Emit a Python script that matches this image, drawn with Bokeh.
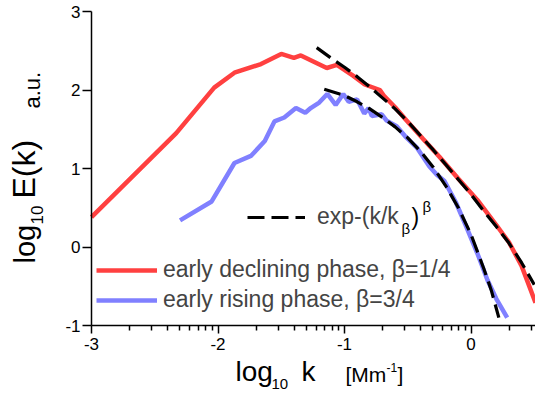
import math
from bokeh.plotting import figure
from bokeh.models import FixedTicker, Label, Legend, LegendItem, LinearAxis
from bokeh.embed import file_html
from bokeh.resources import INLINE

# ---- data ----
red_x = [-3.0, -2.33, -2.03, -1.87, -1.66, -1.50, -1.40, -1.345, -1.14, -1.06,
         -0.93, -0.84, -0.72, -0.69, -0.60, -0.52, -0.38, -0.25, -0.10, 0.05,
         0.20, 0.30, 0.40, 0.51]
red_y = [0.38, 1.45, 2.03, 2.22, 2.33, 2.46, 2.41, 2.44, 2.28, 2.32,
         2.18, 2.07, 2.00, 1.93, 1.78, 1.63, 1.38, 1.15, 0.87, 0.60,
         0.28, 0.06, -0.24, -0.71]

blue_x = [-2.30, -2.05, -1.87, -1.74, -1.63, -1.554, -1.476, -1.384, -1.31, -1.267,
          -1.20, -1.136, -1.07, -1.01, -0.967, -0.90, -0.844, -0.81, -0.784, -0.706,
          -0.667, -0.588, -0.52, -0.43, -0.33, -0.27, -0.21, -0.12, -0.04, 0.05,
          0.13, 0.20, 0.286]
blue_y = [0.34, 0.58, 1.07, 1.16, 1.35, 1.60, 1.65, 1.77, 1.71, 1.77,
          1.84, 1.95, 1.81, 1.95, 1.85, 1.88, 1.70, 1.77, 1.67, 1.69,
          1.61, 1.54, 1.41, 1.27, 1.03, 0.92, 0.84, 0.57, 0.27, -0.08,
          -0.42, -0.66, -0.90]

fit_red_x = [-1.22, -1.1, -1.0, -0.9, -0.8, -0.7, -0.6, -0.5, -0.4, -0.3,
             -0.2, -0.1, 0.0, 0.1, 0.2, 0.3, 0.4, 0.5]
fit_red_y = [2.54, 2.40, 2.29, 2.17, 2.04, 1.90, 1.76, 1.60, 1.42, 1.24,
             1.05, 0.86, 0.67, 0.46, 0.26, 0.05, -0.20, -0.48]

fit_blue_x = [-1.16, -1.0, -0.9, -0.8, -0.7, -0.6, -0.5, -0.4, -0.3, -0.2,
              -0.1, 0.0, 0.1, 0.16, 0.22]
fit_blue_y = [2.01, 1.93, 1.85, 1.76, 1.65, 1.53, 1.39, 1.22, 1.02, 0.78,
              0.50, 0.16, -0.27, -0.55, -0.90]

x_ticks = [-3, -2, -1, 0]
x_tick_labels = ["-3", "-2", "-1", "0"]
y_ticks = [-1, 0, 1, 2, 3]
y_tick_labels = ["-1", "0", "1", "2", "3"]

label_red = "early declining phase, β=1/4"
label_blue = "early rising phase, β=3/4"
label_fit = "exp-(k/k"

RED = "#ff4040"
BLUE = "#8080ff"
FONT = "Liberation Sans"

# ---- layout: the frame fills the whole canvas; axes sit at fixed locations ----
W, H = 535, 393
AX_LEFT_PX = 91       # pixel column of the y axis
AX_BOTTOM_PX = 325    # pixel row of the x axis
XS = 126.5            # px per decade in x
YS = 78.5             # px per unit in y
XA, YA = -3.0, -1.0   # axis positions (data)
X0 = XA - AX_LEFT_PX / XS
X1 = XA + (W - AX_LEFT_PX) / XS
Y0 = YA - (H - AX_BOTTOM_PX) / YS
Y1 = YA + AX_BOTTOM_PX / YS


def dx(px):
    return (px - AX_LEFT_PX) / XS + XA


def dy(py):
    return (AX_BOTTOM_PX - py) / YS + YA


p = figure(width=W, height=H, x_range=(X0, X1), y_range=(Y0, Y1),
           output_backend="svg", toolbar_location=None,
           x_axis_location=None, y_axis_location=None,
           min_border=0)
p.outline_line_color = None
p.grid.visible = False
p.background_fill_color = "white"
p.border_fill_color = "white"

minor = []
for d in [-3, -2, -1, 0]:
    for m in range(2, 10):
        v = d + math.log10(m)
        if v < X1:
            minor.append(v)

xa = LinearAxis(fixed_location=YA, bounds=(XA, X1),
                ticker=FixedTicker(ticks=x_ticks, minor_ticks=minor),
                major_label_overrides=dict(zip(x_ticks, x_tick_labels)))
ya = LinearAxis(fixed_location=XA, bounds=(YA, 3),
                ticker=FixedTicker(ticks=y_ticks, minor_ticks=[]),
                major_label_overrides=dict(zip(y_ticks, y_tick_labels)))
p.add_layout(xa, "below")
p.add_layout(ya, "left")

for ax in (xa, ya):
    ax.axis_line_width = 1.5
    ax.axis_line_color = "black"
    ax.major_tick_line_width = 1.5
    ax.minor_tick_line_width = 1.5
    ax.major_tick_line_color = "black"
    ax.minor_tick_line_color = "black"
    ax.major_tick_in = 0
    ax.minor_tick_in = 0
    ax.major_label_text_font = FONT
    ax.major_label_text_font_size = "17px"
    ax.major_label_text_color = "black"
xa.major_tick_out = 8
xa.minor_tick_out = 5
xa.major_label_standoff = 4
ya.major_tick_out = 9
ya.minor_tick_out = 0
ya.major_label_standoff = 2

r_red = p.line(red_x, red_y, line_color=RED, line_width=4.5)
r_blue = p.line(blue_x, blue_y, line_color=BLUE, line_width=4.5)
r_fr = p.line(fit_red_x, fit_red_y, line_color="black", line_width=3.2, line_dash="17 7")
r_fb = p.line(fit_blue_x, fit_blue_y, line_color="black", line_width=3.2, line_dash="17 7")

common = dict(padding=0, margin=0, border_line_color=None, background_fill_alpha=0,
              label_text_font=FONT, label_text_font_size="23px",
              glyph_height=26, label_height=26, spacing=3)
leg1 = Legend(items=[LegendItem(label=label_red, renderers=[r_red]),
                     LegendItem(label=label_blue, renderers=[r_blue])],
              location=(96, 80), glyph_width=61, label_standoff=6, **common)
leg2 = Legend(items=[LegendItem(label=label_fit, renderers=[r_fr])],
              location=(247, 163), glyph_width=58, label_standoff=12, **common)
p.add_layout(leg1)
p.add_layout(leg2)


def lab(text, px, py, size, rotated=False):
    # (px, py) is the start of the text on its baseline; anchor the text at its middle
    off = 0.35 * size
    if rotated:
        x, y, angle = px - off, py, math.pi / 2
    else:
        x, y, angle = px, py - off, 0.0
    p.add_layout(Label(x=dx(x), y=dy(y), text=text, text_font=FONT,
                       text_font_size=f"{size}px", angle=angle,
                       text_align="left", text_baseline="middle",
                       text_color="black"))


# legend formula pieces
lab("β", 401, 233, 15)
lab(")", 411, 225, 23)
lab("β", 422, 211, 15)

# x axis title
lab("log", 235, 381, 28)
lab("10", 271, 389, 15)
lab("k", 301, 381, 28)
lab("[Mm", 345, 381, 21)
lab("-1", 386, 371, 12)
lab("]", 397, 381, 21)

# y axis title (rotated, reading upwards)
lab("log", 35, 263, 29, True)
lab("10", 42, 224, 17, True)
lab("E(k)", 35, 198, 32, True)
lab("a.u.", 40, 108, 22, True)

open("out.html", "w").write(file_html(p, INLINE))
